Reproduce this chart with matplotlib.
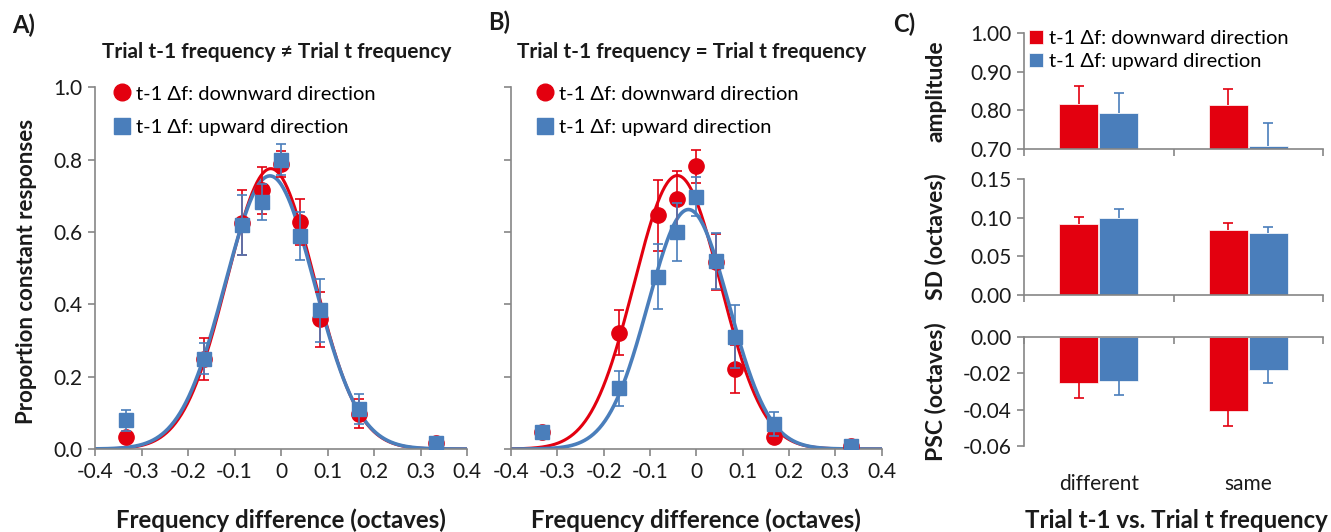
import numpy as np
import matplotlib.pyplot as plt
from matplotlib.lines import Line2D
from matplotlib.transforms import blended_transform_factory

plt.rcParams['font.family'] = ['Lato', 'DejaVu Sans']

RED = '#E3000F'
BLUE = '#4A7EBB'
GRAY = '#868686'
TXT = '#1a1a1a'

# --- data ---
freq_diff = [-1/3, -1/6, -1/12, -1/24, 0, 1/24, 1/12, 1/6, 1/3]

# A) trial t-1 frequency != trial t frequency
a_down = [0.033, 0.249, 0.625, 0.715, 0.789, 0.628, 0.359, 0.097, 0.017]
a_down_err = [0.005, 0.058, 0.090, 0.065, 0.036, 0.064, 0.076, 0.040, 0.008]
a_up = [0.079, 0.249, 0.620, 0.683, 0.800, 0.589, 0.384, 0.110, 0.017]
a_up_err = [0.030, 0.043, 0.083, 0.050, 0.043, 0.067, 0.087, 0.041, 0.008]

# B) trial t-1 frequency == trial t frequency
b_down = [0.046, 0.322, 0.646, 0.692, 0.781, 0.517, 0.221, 0.033, 0.007]
b_down_err = [0.008, 0.062, 0.098, 0.076, 0.046, 0.077, 0.067, 0.006, 0.005]
b_up = [0.046, 0.168, 0.476, 0.600, 0.697, 0.519, 0.311, 0.069, 0.009]
b_up_err = [0.010, 0.048, 0.090, 0.080, 0.054, 0.078, 0.086, 0.033, 0.006]

# gaussian fits (amplitude, centre, sd)
a_down_fit = [0.775, -0.022, 0.094]
a_up_fit = [0.755, -0.024, 0.096]
b_down_fit = [0.756, -0.041, 0.093]
b_up_fit = [0.662, -0.017, 0.087]

# C) fit parameters per condition
conditions = ['different', 'same']
amp_down = [0.816, 0.814]
amp_down_err = [0.047, 0.042]
amp_up = [0.794, 0.709]
amp_up_err = [0.051, 0.058]
sd_down = [0.0916, 0.0843]
sd_down_err = [0.009, 0.009]
sd_up = [0.0994, 0.0800]
sd_up_err = [0.012, 0.008]
psc_down = [-0.0254, -0.0405]
psc_down_err = [0.008, 0.0085]
psc_up = [-0.0241, -0.0182]
psc_up_err = [0.008, 0.007]

lab_down = 't-1 \u0394f: downward direction'
lab_up = 't-1 \u0394f: upward direction'

TICK_FS = 15
LEG_FS = 14.5
XLABEL_FS = 17.3
YLABEL_FS = 16


def style_axis(ax):
    for s in ['top', 'right']:
        ax.spines[s].set_visible(False)
    for s in ['left', 'bottom']:
        ax.spines[s].set_color(GRAY)
        ax.spines[s].set_linewidth(1.2)
    ax.tick_params(direction='out', length=5, width=1.2, color=GRAY,
                   labelsize=TICK_FS, labelcolor=TXT, pad=4)


def gauss(x, p):
    return p[0] * np.exp(-(x - p[1]) ** 2 / (2 * p[2] ** 2))


def psych_panel(ax, down, down_err, up, up_err, fit_down, fit_up, xleg, title, tx):
    xs = np.linspace(-0.4, 0.4, 500)
    ax.errorbar(freq_diff, down, yerr=down_err, fmt='o', color=RED, ms=11,
                elinewidth=1.2, capsize=3.5, capthick=1.2, zorder=3)
    ax.errorbar(freq_diff, up, yerr=up_err, fmt='s', color=BLUE, ms=10,
                elinewidth=1.2, capsize=3.5, capthick=1.2, zorder=4)
    ax.plot(xs, gauss(xs, fit_down), color=RED, lw=2.2, zorder=2)
    ax.plot(xs, gauss(xs, fit_up), color=BLUE, lw=2.6, zorder=2.5)
    ax.set_xlim(-0.4, 0.4)
    ax.set_ylim(0, 1.0)
    ax.set_xticks(np.arange(-0.4, 0.41, 0.1))
    ax.set_xticklabels(['-0.4', '-0.3', '-0.2', '-0.1', '0', '0.1', '0.2', '0.3', '0.4'])
    ax.set_yticks(np.arange(0, 1.01, 0.2))
    style_axis(ax)
    handles = [Line2D([], [], marker='o', ls='none', color=RED, ms=12),
               Line2D([], [], marker='s', ls='none', color=BLUE, ms=11)]
    ax.legend(handles, [lab_down, lab_up], loc='upper left', bbox_to_anchor=(xleg, 1.005),
              frameon=False, fontsize=LEG_FS, handlelength=0.9, handletextpad=0.25,
              labelspacing=0.8, borderpad=0, borderaxespad=0)
    ax.set_xlabel('Frequency difference (octaves)', fontsize=XLABEL_FS, fontweight='bold',
                  color=TXT)
    ax.xaxis.set_label_coords(0.5, -0.165)
    ax.text(tx, 1.097, title, transform=ax.transAxes, ha='center', va='center',
            fontsize=15, fontweight='bold', color=TXT)


fig = plt.figure(figsize=(13.31, 5.32), dpi=100)

axA = fig.add_axes([0.0714, 0.156, 0.2795, 0.680])
psych_panel(axA, a_down, a_down_err, a_up, a_up_err, a_down_fit, a_up_fit, 0.048,
            'Trial t-1 frequency \u2260 Trial t frequency', 0.487)
axA.set_yticklabels(['0.0', '0.2', '0.4', '0.6', '0.8', '1.0'])
axA.set_ylabel('Proportion constant responses', fontsize=YLABEL_FS, fontweight='bold', color=TXT)
axA.yaxis.set_label_coords(-0.155, 0.49)

axB = fig.add_axes([0.3839, 0.156, 0.2785, 0.680])
psych_panel(axB, b_down, b_down_err, b_up, b_up_err, b_down_fit, b_up_fit, 0.067,
            'Trial t-1 frequency = Trial t frequency', 0.488)
axB.set_yticklabels([])

# --- panel C ---
cx = np.arange(len(conditions))
bw = 0.26
off = 0.133
c_left, c_width = 0.7694, 0.2246
ax1 = fig.add_axes([c_left, 0.7199, c_width, 0.218])
ax2 = fig.add_axes([c_left, 0.4455, c_width, 0.218])
ax3 = fig.add_axes([c_left, 0.1617, c_width, 0.205])

panels = [
    (ax1, amp_down, amp_down_err, amp_up, amp_up_err, (0.70, 1.00), [0.70, 0.80, 0.90, 1.00], 'amplitude'),
    (ax2, sd_down, sd_down_err, sd_up, sd_up_err, (0.0, 0.15), [0.0, 0.05, 0.10, 0.15], 'SD (octaves)'),
    (ax3, psc_down, psc_down_err, psc_up, psc_up_err, (-0.06, 0.0), [-0.06, -0.04, -0.02, 0.0], 'PSC (octaves)'),
]
for ax, dn, dn_e, upv, up_e, ylim, yt, ylab in panels:
    sign = -1 if ylim[1] <= 0 else 1
    for xpos, vals, errs, col, lab in [(cx - off, dn, dn_e, RED, lab_down),
                                       (cx + off, upv, up_e, BLUE, lab_up)]:
        ax.bar(xpos, vals, bw, color=col, edgecolor='white', linewidth=0.5, label=lab, zorder=2)
        tips = np.array(vals) + sign * np.array(errs)
        ax.vlines(xpos, vals, tips, color=col, lw=1.2, zorder=3)
        ax.plot(xpos, tips, marker='_', ms=7.5, mew=1.2, color=col, ls='none', zorder=3)
    ax.set_xlim(-0.5, 1.5)
    ax.set_ylim(*ylim)
    ax.set_yticks(yt)
    ax.set_yticklabels(['%.2f' % v for v in yt])
    ax.set_xticks([-0.5, 0.5, 1.5])
    ax.set_xticklabels([])
    style_axis(ax)
    if sign < 0:
        ax.spines['bottom'].set_position(('data', 0))
    ax.set_ylabel(ylab, fontsize=16.5, fontweight='bold', color=TXT)
    ax.yaxis.set_label_coords(-0.26, 0.5)

ax1.legend(loc='upper left', bbox_to_anchor=(0.017, 1.03), frameon=False, fontsize=LEG_FS,
           handlelength=0.7, handleheight=0.7, handletextpad=0.3, labelspacing=0.3,
           borderpad=0, borderaxespad=0)

tr = blended_transform_factory(ax3.transData, ax3.transAxes)
for i, c in enumerate(conditions):
    ax3.text(cx[i], -0.345, c, transform=tr, ha='center', va='center', fontsize=TICK_FS, color=TXT)
ax3.set_xlabel('Trial t-1 vs. Trial t frequency', fontsize=XLABEL_FS, fontweight='bold', color=TXT)
ax3.xaxis.set_label_coords(0.51, -0.58)

# panel letters
fig.text(0.009, 0.953, 'A)', fontsize=17, fontweight='bold', color=TXT, va='center')
fig.text(0.367, 0.959, 'B)', fontsize=17, fontweight='bold', color=TXT, va='center')
fig.text(0.671, 0.955, 'C)', fontsize=17, fontweight='bold', color=TXT, va='center')

fig.savefig('out.png', dpi=100)
